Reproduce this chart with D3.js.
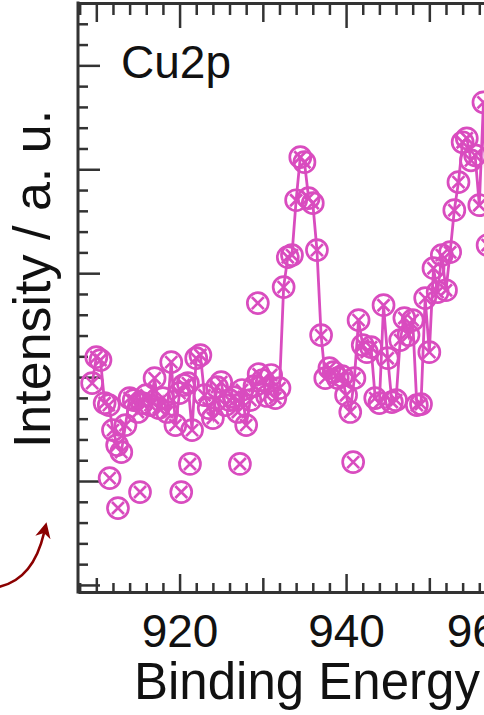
<!DOCTYPE html>
<html><head><meta charset="utf-8">
<script src="https://cdn.jsdelivr.net/npm/d3@7"></script>
<style>html,body{margin:0;padding:0;background:#fff;} svg{display:block;}</style>
</head><body>
<svg id="chart" width="484" height="715"></svg>
<script>
// Binding energy (eV) and intensity (a.u.) of the connected Cu2p series
const energy = [909.5,910.0,910.5,911.0,911.5,912.0,912.5,913.0,913.5,914.0,914.5,915.0,915.5,916.0,916.5,917.0,917.5,918.0,918.5,919.0,919.5,920.0,920.5,921.0,921.5,922.0,922.5,923.0,923.5,924.0,924.5,925.0,925.5,926.0,926.5,927.0,927.5,928.0,928.5,929.0,929.5,930.0,930.5,931.0,931.5,932.0,932.5,933.0,933.5,934.0,934.5,935.0,935.5,936.0,936.5,937.0,937.5,938.0,938.5,939.0,939.5,940.0,940.5,941.0,941.5,942.0,942.5,943.0,943.5,944.0,944.5,945.0,945.5,946.0,946.5,947.0,947.5,948.0,948.5,949.0,949.5,950.0,950.5,951.0,951.5,952.0,952.5,953.0,953.5,954.0,954.5,955.0,955.5,956.0,956.5,957.0];
const intensity = [4.71,5.96,5.82,3.75,3.65,2.45,1.73,1.39,2.69,3.99,3.89,3.32,3.75,4.13,3.65,4.95,3.51,3.99,3.32,5.72,2.69,4.23,4.62,4.71,2.45,5.91,6.06,4.13,3.51,3.03,4.52,4.76,3.65,3.89,4.04,3.32,4.38,2.69,3.89,4.57,5.14,4.86,4.09,5.10,3.99,4.47,9.33,10.77,10.87,13.51,15.58,15.34,13.61,13.37,11.11,7.02,4.95,5.43,5.24,4.95,5.05,4.13,3.32,4.95,7.74,6.54,6.20,6.44,3.99,3.75,8.46,5.91,3.80,3.89,6.78,7.84,7.02,7.74,3.65,3.70,8.80,6.20,10.24,9.09,10.87,9.18,11.01,13.03,14.38,16.30,16.49,15.43,15.67,13.27,18.22,11.35];
// isolated points (markers only)
const outlierEnergy = [911.6,912.6,915.25,920.2,921.25,927.25,929.4,940.85];
const outlierIntensity = [0.14,-1.30,-0.53,-0.53,0.82,0.82,8.56,0.91];
// axis ticks
const xMinorTicks = d3.range(908, 962, 2);
const xLabelTicks = [920, 940, 960];
const yTicks = d3.range(-5, 24, 1);
const panelLabel = "Cu2p";
const xTitle = "Binding Energy / eV";
const yTitle = "Intensity / a. u.";

(function(){
const svg = d3.select("#chart");
svg.append("rect").attr("width",484).attr("height",715).attr("fill","#fff");

const pL = 78, pR = 523, pT = 3, pB = 592;
const x = d3.scaleLinear().domain([907.8, 961.25]).range([pL, pR]);
const y = d3.scaleLinear().domain([-5.34, 23.0]).range([pB, pT]);

const markColor = "#d94cbf";
const axisColor = "#333";
const font = "'Liberation Sans', Arial, Helvetica, sans-serif";

function xLen(v, big, mid, small){ return (v % 20 === 0) ? big : (v % 10 === 0 ? mid : small); }

// bottom axis
const gB = svg.append("g").attr("transform", `translate(0,${pB})`)
  .call(d3.axisBottom(x).tickValues(xMinorTicks).tickSizeOuter(0).tickSizeInner(-9).tickPadding(22)
    .tickFormat(d => xLabelTicks.includes(d) ? String(d) : ""));
gB.selectAll(".tick line").attr("y1", 2).attr("y2", d => -xLen(d, 18, 14, 9));
gB.selectAll(".tick text").attr("font-size", 46).attr("font-family", font).attr("fill", "#111");
gB.selectAll(".tick").filter(d => d === 960).select("text")
  .attr("text-anchor", "end").attr("x", pR - x(960));

// top axis
const gT = svg.append("g").attr("transform", `translate(0,${pT})`)
  .call(d3.axisTop(x).tickValues(xMinorTicks).tickSizeOuter(0).tickSizeInner(-12).tickFormat(""));
gT.selectAll(".tick line").attr("y2", d => xLen(d, 25, 19, 12));

// left axis
const gL = svg.append("g").attr("transform", `translate(${pL},0)`)
  .call(d3.axisLeft(y).tickValues(yTicks).tickSizeOuter(0).tickSizeInner(-10).tickFormat(""));
gL.selectAll(".tick line").attr("x2", d => (d % 5 === 0) ? 22 : 10);

[gB, gT, gL].forEach(g => {
  g.select(".domain").attr("stroke", axisColor).attr("stroke-width", 3);
  g.selectAll(".tick line").attr("stroke", axisColor).attr("stroke-width", 2.5);
});
gL.select(".domain").attr("d", `M0,${pT-1.5}V${pB+1.5}`);

// data line
const pts = energy.map((e, i) => [e, intensity[i]]);
svg.append("path").datum(pts)
  .attr("fill", "none").attr("stroke", markColor).attr("stroke-width", 2.8)
  .attr("d", d3.line().x(d => x(d[0])).y(d => y(d[1])));

const allPts = pts.concat(outlierEnergy.map((e, i) => [e, outlierIntensity[i]]));
const mk = svg.append("g").selectAll("g").data(allPts).join("g")
  .attr("transform", d => `translate(${x(d[0])},${y(d[1])})`);
mk.append("circle").attr("r", 10.5).attr("fill", "none").attr("stroke", markColor).attr("stroke-width", 2.7);
mk.append("path").attr("d", "M-6,-6L6,6M-6,6L6,-6").attr("stroke", markColor).attr("stroke-width", 2.7);

// texts
svg.append("text").attr("x", 121).attr("y", 78).attr("font-size", 46).attr("font-family", font)
  .attr("fill", "#111").text(panelLabel);
svg.append("text").attr("x", 134).attr("y", 699).attr("font-size", 51).attr("font-family", font)
  .attr("fill", "#111").text(xTitle);
svg.append("text").attr("transform", "translate(50,279) rotate(-90)").attr("text-anchor", "middle")
  .attr("font-size", 52).attr("font-family", font).attr("fill", "#111").text(yTitle);

// annotation arrow
const defs = svg.append("defs");
defs.append("marker").attr("id", "ah").attr("viewBox", "0 0 10 10").attr("refX", 3).attr("refY", 5)
  .attr("markerWidth", 6).attr("markerHeight", 6).attr("orient", "auto")
  .append("path").attr("d", "M0,0L10,5L0,10L3,5Z").attr("fill", "#8b0000");
svg.append("path").attr("d", "M-2,587 Q33,580 44,533").attr("fill", "none")
  .attr("stroke", "#8b0000").attr("stroke-width", 2.6).attr("marker-end", "url(#ah)");
})();
</script>
</body></html>
